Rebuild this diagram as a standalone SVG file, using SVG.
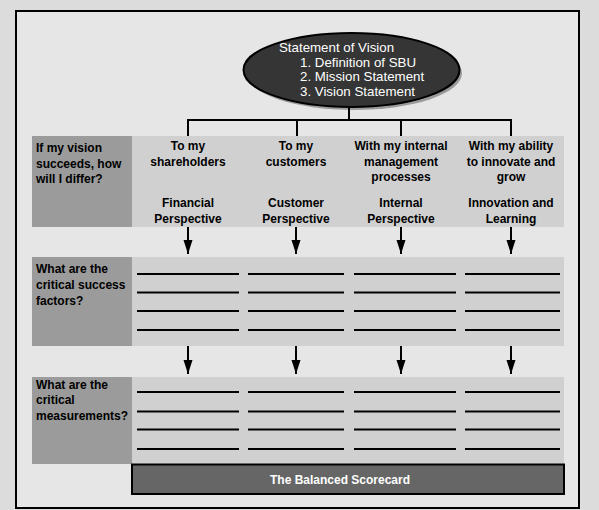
<svg xmlns="http://www.w3.org/2000/svg" width="599" height="510" viewBox="0 0 599 510">
<defs>
<style>
.lbl{font-family:"Liberation Sans",Arial,sans-serif;font-weight:bold;font-size:12px;fill:#000}
.hd{font-family:"Liberation Sans",Arial,sans-serif;font-weight:bold;font-size:12px;fill:#000;text-anchor:middle}
.ell{font-family:"Liberation Sans",Arial,sans-serif;font-size:13.3px;fill:#fff}
.dark{fill:#9b9b9b}
.band{fill:#d0d0d0}
.rule{stroke:#000;stroke-width:2;fill:none}
.conn{stroke:#000;stroke-width:2;fill:none}
</style>
<marker id="ah" markerWidth="14" markerHeight="10" refX="14" refY="5" orient="auto" markerUnits="userSpaceOnUse" viewBox="0 0 14 10">
<path d="M0,0.5 L14,5 L0,9.5 Z" fill="#000"/>
</marker>
</defs>
<rect x="0" y="0" width="599" height="510" fill="#dcdcdc"/>
<rect id="frame" x="16" y="11" width="563" height="497" fill="#e6e6e6" stroke="#000" stroke-width="2"/>

<g id="vision">
<ellipse cx="354" cy="73" rx="108" ry="37" fill="#9a9a9a"/>
<ellipse cx="351.5" cy="70" rx="108" ry="37" fill="#353535" stroke="#000" stroke-width="2"/>
<text class="ell" x="279" y="52">Statement of Vision</text>
<text class="ell" x="300" y="66.5">1. Definition of SBU</text>
<text class="ell" x="300" y="81">2. Mission Statement</text>
<text class="ell" x="300" y="95.5">3. Vision Statement</text>
</g>

<g id="row-differ">
<rect class="band" x="132" y="136" width="432" height="91"/>
<rect class="dark" x="32" y="136" width="100" height="91"/>
<text class="lbl" x="36" y="152">If my vision</text>
<text class="lbl" x="36" y="167.5">succeeds, how</text>
<text class="lbl" x="36" y="183">will I differ?</text>
</g>
<g id="col-financial">
<text class="hd" x="188" y="150">To my</text>
<text class="hd" x="188" y="165.5">shareholders</text>
<text class="hd" x="188" y="207">Financial</text>
<text class="hd" x="188" y="222.5">Perspective</text>
</g>
<g id="col-customer">
<text class="hd" x="296" y="150">To my</text>
<text class="hd" x="296" y="165.5">customers</text>
<text class="hd" x="296" y="207">Customer</text>
<text class="hd" x="296" y="222.5">Perspective</text>
</g>
<g id="col-internal">
<text class="hd" x="401" y="150">With my internal</text>
<text class="hd" x="401" y="165.5">management</text>
<text class="hd" x="401" y="181">processes</text>
<text class="hd" x="401" y="207">Internal</text>
<text class="hd" x="401" y="222.5">Perspective</text>
</g>
<g id="col-innovation">
<text class="hd" x="511" y="150">With my ability</text>
<text class="hd" x="511" y="165.5">to innovate and</text>
<text class="hd" x="511" y="181">grow</text>
<text class="hd" x="511" y="207">Innovation and</text>
<text class="hd" x="511" y="222.5">Learning</text>
</g>

<g id="row-factors">
<rect class="band" x="132" y="257" width="432" height="89"/>
<rect class="dark" x="32" y="257" width="100" height="89"/>
<text class="lbl" x="36" y="273">What are the</text>
<text class="lbl" x="36" y="289">critical success</text>
<text class="lbl" x="36" y="304.5">factors?</text>
<path class="rule" d="M137,274H239M248,274H344M354,274H456M465,274H560
M137,292.5H239M248,292.5H344M354,292.5H456M465,292.5H560
M137,311H239M248,311H344M354,311H456M465,311H560
M137,330H239M248,330H344M354,330H456M465,330H560"/>
</g>

<g id="row-measurements">
<rect class="band" x="132" y="377" width="432" height="87"/>
<rect class="dark" x="32" y="377" width="100" height="87"/>
<text class="lbl" x="36" y="388.5">What are the</text>
<text class="lbl" x="36" y="404">critical</text>
<text class="lbl" x="36" y="420">measurements?</text>
<path class="rule" d="M137,392H239M248,392H344M354,392H456M465,392H560
M137,411.5H239M248,411.5H344M354,411.5H456M465,411.5H560
M137,429.5H239M248,429.5H344M354,429.5H456M465,429.5H560
M137,449H239M248,449H344M354,449H456M465,449H560"/>
</g>

<g id="scorecard">
<rect x="132" y="464.5" width="432" height="29.5" fill="#666" stroke="#000" stroke-width="2"/>
<text x="340" y="484" font-family="'Liberation Sans',Arial,sans-serif" font-weight="bold" font-size="12" fill="#fff" text-anchor="middle">The Balanced Scorecard</text>
</g>

<g id="connectors">
<path class="conn" d="M349,107V120M187,120H512M188,120V136M297,120V136M401,120V136M511,120V136"/>
<path class="conn" d="M188,227V254" marker-end="url(#ah)"/>
<path class="conn" d="M296,227V254" marker-end="url(#ah)"/>
<path class="conn" d="M401,227V254" marker-end="url(#ah)"/>
<path class="conn" d="M511,227V254" marker-end="url(#ah)"/>
<path class="conn" d="M188,346V374" marker-end="url(#ah)"/>
<path class="conn" d="M296,346V374" marker-end="url(#ah)"/>
<path class="conn" d="M401,346V374" marker-end="url(#ah)"/>
<path class="conn" d="M511,346V374" marker-end="url(#ah)"/>
</g>
</svg>
